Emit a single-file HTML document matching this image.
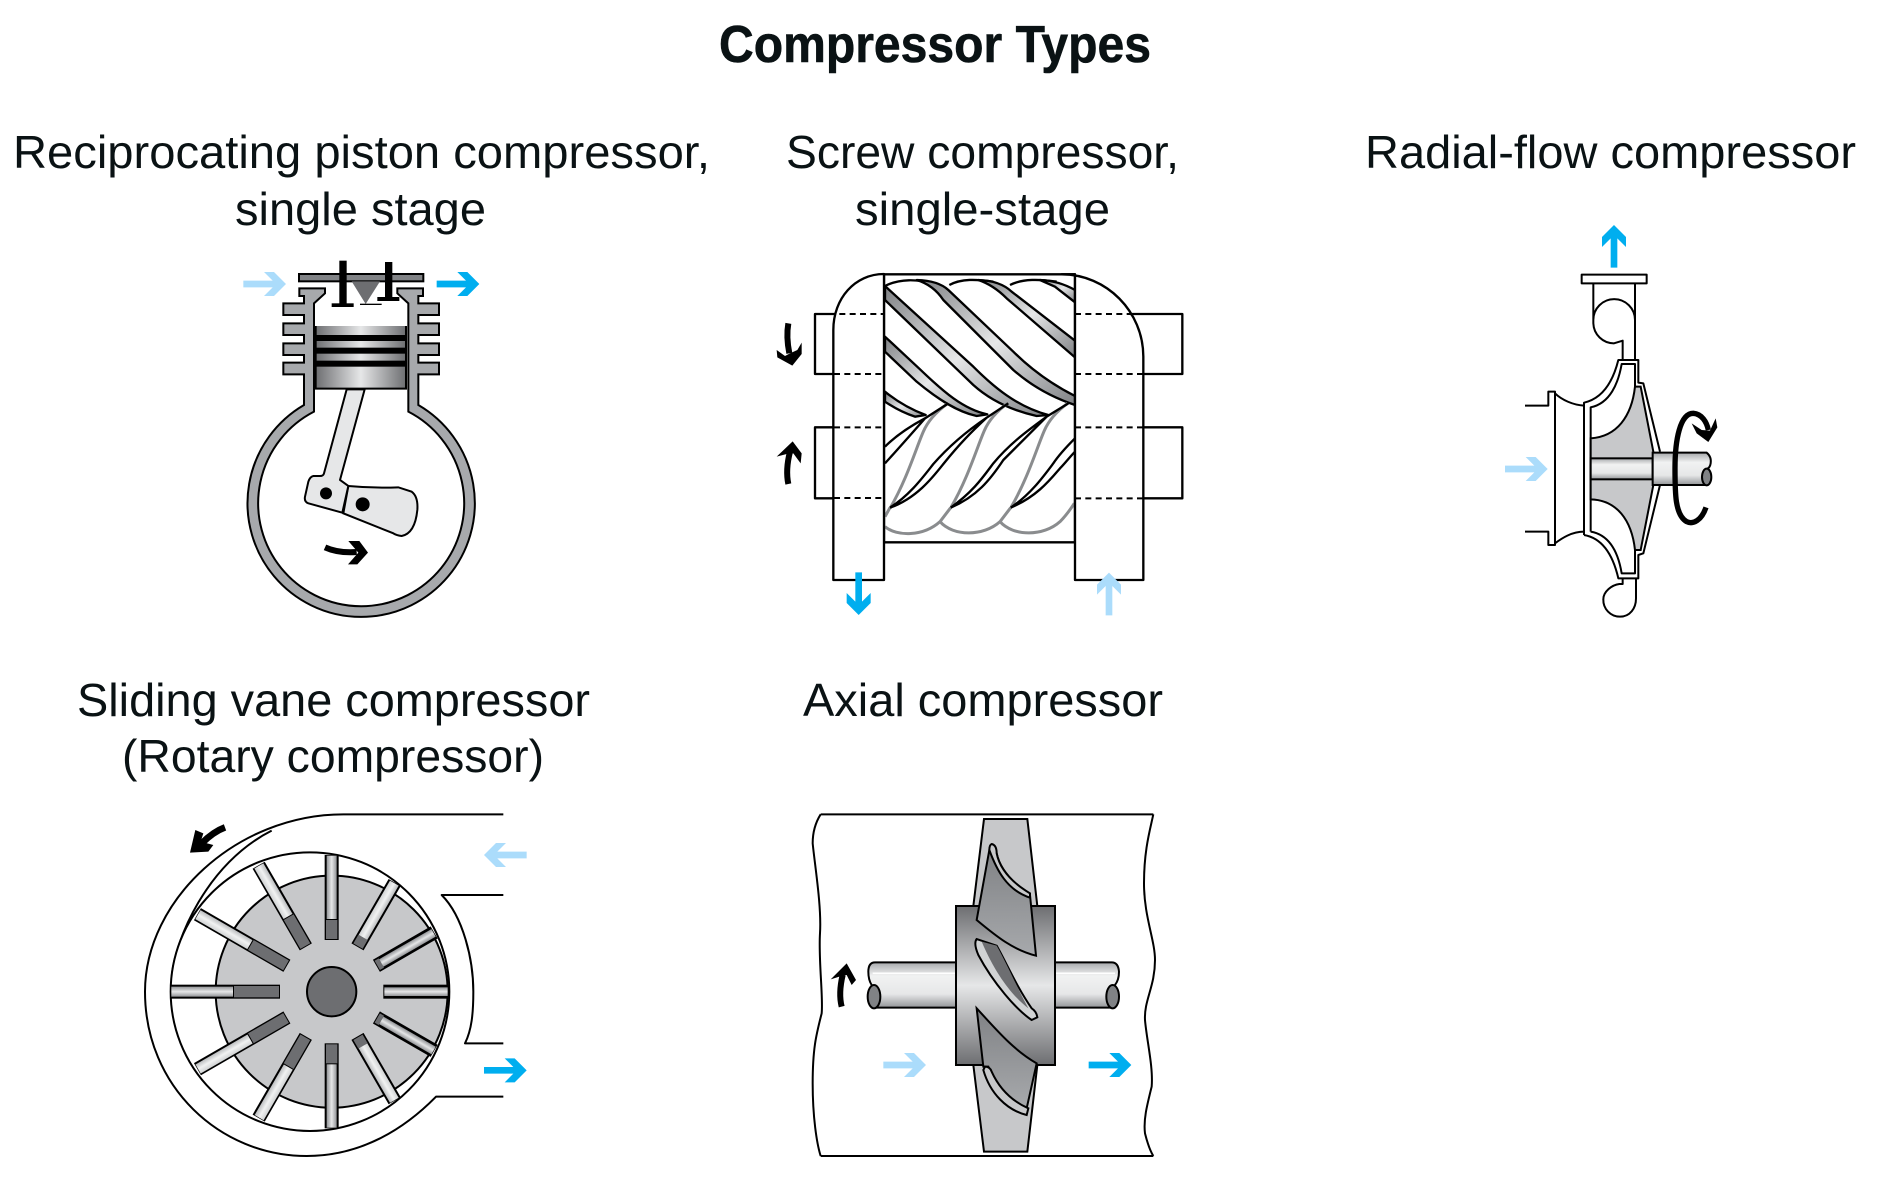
<!DOCTYPE html>
<html><head><meta charset="utf-8"><style>
html,body{margin:0;padding:0;background:#fff}
svg{display:block}
text{font-family:"Liberation Sans",sans-serif;fill:#0a1214}
.k{fill:none;stroke:#000;stroke-width:6;stroke-linejoin:round}
.w{fill:#fff;stroke:#000;stroke-width:6;stroke-linejoin:round}
.g{fill:none;stroke:#8a8c8e;stroke-width:9;stroke-linejoin:round}
.d{fill:none;stroke:#000;stroke-width:6;stroke-dasharray:18 13}
.bd{stroke:#000;stroke-width:7;stroke-linejoin:round;fill:url(#b)}
.sc .k,.sc .w{stroke-width:7}
</style></head><body>
<svg xmlns="http://www.w3.org/2000/svg" width="1889" height="1180" viewBox="0 0 1889 1180">
<defs>
<polygon id="ar" points="0,-10 88,-10 62,-36 92,-36 128,0 92,36 62,36 88,10 0,10"/>
<linearGradient id="h" x1="0" y1="0" x2="1" y2="0"><stop offset="0" stop-color="#6d6e71"/><stop offset=".5" stop-color="#e6e7e8"/><stop offset="1" stop-color="#6d6e71"/></linearGradient>
<linearGradient id="v" x1="0" y1="0" x2="0" y2="1"><stop offset="0" stop-color="#6d6e71"/><stop offset=".5" stop-color="#e6e7e8"/><stop offset="1" stop-color="#6d6e71"/></linearGradient>
<linearGradient id="b" x1="0" y1="0" x2="1" y2="1"><stop offset="0" stop-color="#808285"/><stop offset=".5" stop-color="#e6e7e8"/><stop offset="1" stop-color="#808285"/></linearGradient>
<linearGradient id="s" x1="0" y1="0" x2="0" y2="1"><stop offset="0" stop-color="#a7a9ac"/><stop offset=".3" stop-color="#f1f2f2"/><stop offset=".7" stop-color="#e6e7e8"/><stop offset="1" stop-color="#939598"/></linearGradient>
<linearGradient id="vn" x1="0" y1="0" x2="0" y2="1"><stop offset="0" stop-color="#939598"/><stop offset=".5" stop-color="#e6e7e8"/><stop offset="1" stop-color="#939598"/></linearGradient>
<linearGradient id="vl" x1="0" y1="0" x2="0" y2="1"><stop offset="0" stop-color="#d1d3d4"/><stop offset=".5" stop-color="#f1f2f2"/><stop offset="1" stop-color="#bcbec0"/></linearGradient>
<linearGradient id="bd" x1="0" y1="0" x2="0" y2="1"><stop offset="0" stop-color="#808285"/><stop offset="1" stop-color="#a7a9ac"/></linearGradient>
</defs>

<text x="719" y="62" font-size="52" font-weight="bold" stroke="#0a1214" stroke-width=".6" textLength="432" lengthAdjust="spacingAndGlyphs">Compressor Types</text>
<text x="13" y="168" font-size="46" textLength="697" lengthAdjust="spacingAndGlyphs">Reciprocating piston compressor,</text>
<text x="235" y="225" font-size="46" textLength="251" lengthAdjust="spacingAndGlyphs">single stage</text>
<text x="786" y="168" font-size="46" textLength="393" lengthAdjust="spacingAndGlyphs">Screw compressor,</text>
<text x="855" y="225" font-size="46" textLength="255" lengthAdjust="spacingAndGlyphs">single-stage</text>
<text x="1365" y="168" font-size="46" textLength="491" lengthAdjust="spacingAndGlyphs">Radial-flow compressor</text>
<text x="77" y="716" font-size="46" textLength="513" lengthAdjust="spacingAndGlyphs">Sliding vane compressor</text>
<text x="122" y="772" font-size="46" textLength="422" lengthAdjust="spacingAndGlyphs">(Rotary compressor)</text>
<text x="803" y="716" font-size="46" textLength="360" lengthAdjust="spacingAndGlyphs">Axial compressor</text>

<!-- Piston -->
<g transform="translate(220,240) scale(.33333)">
<rect x="237" y="102" width="373" height="22" fill="#808285" stroke="#000" stroke-width="6"/>
<polygon points="395,124 480,124 437,192" fill="#6d6e71"/>
<rect x="358" y="62" width="22" height="135" fill="#000"/><rect x="335" y="190" width="66" height="11" fill="#000"/>
<rect x="495" y="66" width="22" height="115" fill="#000"/><rect x="472" y="171" width="66" height="12" fill="#000"/>
<rect x="420" y="191" width="65" height="4" fill="#000"/>
<path d="M282,515 V190 L315,160 V145 H238 V168 H252 V190 H190 V225 H252 V250 H190 V285 H252 V310 H190 V345 H252 V368 H190 V403 H252 V495 A341,341 0 1 0 595,495 V403 H657 V368 H595 V345 H657 V310 H595 V285 H657 V250 H595 V225 H657 V190 H595 V168 H609 V145 H532 V160 L565,190 V515 A309,309 0 1 1 282,515 Z" fill="#a7a9ac" stroke="#000" stroke-width="6" stroke-linejoin="miter"/>
<rect x="287" y="258" width="271" height="188" fill="url(#h)"/>
<rect x="287" y="285" width="271" height="18" fill="#000"/><rect x="287" y="323" width="271" height="18" fill="#000"/><rect x="287" y="362" width="271" height="18" fill="#000"/>
<path d="M287,258 V446 H558 V258" fill="none" stroke="#000" stroke-width="6"/>
<path d="M385,738 Q460,745 535,742 L575,755 Q595,770 592,810 Q585,880 545,888 Q530,886 520,880 L370,820 Z" fill="#e6e7e8" stroke="#000" stroke-width="6"/>
<path d="M380,448 L312,700 Q310,708 300,708 H280 Q270,710 265,725 L255,770 Q252,785 265,790 L367,818 L385,738 L360,720 L434,448 Z" fill="#e6e7e8" stroke="#000" stroke-width="6" stroke-linejoin="round"/>
<circle cx="318" cy="760" r="18"/><circle cx="428" cy="793" r="21"/>
<path d="M315,922 Q355,940 410,936" fill="none" stroke="#000" stroke-width="18"/>
<polygon points="385,903 418,903 444,938 412,973 384,973 415,938"/>
<use href="#ar" transform="translate(70,132)" fill="#abdcfb"/>
<use href="#ar" transform="translate(650,132)" fill="#00aeef"/>
</g>

<!-- Screw -->
<g class="sc" transform="translate(760,250) scale(.33333)">
<rect x="372" y="73" width="573" height="804" class="w"/>
<path class="k" d="M375,108 C420,85 470,88 525,100 M568,105 C605,85 650,88 700,95 M750,105 C790,85 840,88 890,95"/>
<path class="bd" d="M375,425 Q430,470 497,495 L465,500 Q420,485 375,455 Z"/>
<path class="bd" d="M375,260 L480,358 C550,425 610,478 682,493 L650,498 C590,485 530,445 470,395 L375,305 Z"/>
<path class="bd" d="M375,108 L640,350 C700,410 770,470 865,495 L830,498 C750,480 690,450 640,405 L375,150 Z"/>
<path class="bd" d="M470,90 Q535,92 565,120 L760,305 Q840,385 945,438 V465 Q840,430 760,360 L550,150 Q520,105 470,90 Z"/>
<path class="bd" d="M655,90 Q720,92 755,125 L945,272 V322 L740,145 Q700,105 655,90 Z"/>
<path class="bd" d="M840,90 Q895,92 945,120 V157 L885,110 Z"/>
<g class="g">
<path d="M375,800 L390,773 M375,830 C410,860 490,860 540,815 L572,773 M540,815 C580,860 670,860 720,815 L752,773 M720,815 C760,860 850,860 900,815 C915,800 930,780 943,760"/>
<path d="M390,775 C440,690 470,590 490,545 C505,510 530,485 560,463"/>
<path d="M390,775 C440,690 470,590 490,545 C505,510 530,485 560,463" transform="translate(183,-3)"/>
<path d="M390,775 C440,690 470,590 490,545 C505,510 530,485 560,463" transform="translate(363,-3)"/>
</g>
<path class="k" d="M375,590 Q420,545 495,505 L565,460 M375,640 Q425,585 495,505"/>
<path class="k" d="M390,773 C450,735 490,680 520,642 C570,585 625,540 680,503 L745,460 M390,773 C470,745 520,680 550,642 C600,580 635,545 680,503"/>
<path class="k" d="M572,773 C640,725 670,680 700,640 C750,580 805,540 860,500 L925,460 M572,773 C650,740 690,690 730,630 C780,580 820,540 860,500"/>
<path class="k" d="M752,773 C810,735 850,680 880,640 C900,610 925,585 945,565 M752,773 C830,740 870,690 900,655 C915,640 930,620 945,605"/>
<path class="w" d="M372,72 C285,72 220,145 220,240 V990 H372 Z"/>
<path class="w" d="M905,73 C1040,73 1150,185 1150,320 V990 H945 V73 Z"/>
<path class="k" stroke-linejoin="miter" d="M228,192 H165 V372 H222 M222,532 H165 V745 H222 M1110,192 H1267 V372 H1150 M1150,532 H1267 V745 H1150"/>
<path class="d" d="M238,192 H372 M222,372 H372 M222,532 H372 M222,744 H372 M945,192 H1110 M945,372 H1150 M945,532 H1150 M945,745 H1150"/>
<path d="M85,220 Q78,260 88,310" fill="none" stroke="#000" stroke-width="18"/>
<polygon points="50,300 75,318 90,310 112,300 125,278 125,312 97,347 52,322"/>
<path d="M85,702 Q76,660 90,605" fill="none" stroke="#000" stroke-width="18"/>
<polygon points="50,620 98,574 125,610 122,640 100,610 80,612"/>
<use href="#ar" transform="translate(296,967) rotate(90)" fill="#00aeef"/>
<use href="#ar" transform="translate(1047,1096) rotate(-90)" fill="#abdcfb"/>
</g>

<!-- Radial -->
<g transform="translate(1480,210) scale(.33333)">
<use href="#ar" transform="translate(402,173) rotate(-90)" fill="#00aeef"/>
<rect x="305" y="194" width="195" height="26" class="w"/>
<path class="k" d="M340,220 V340 A62,62 0 0 0 402,400 L428,392 V450 M340,330 A62,62 0 0 1 465,330 M465,220 V450"/>
<path class="k" d="M135,587 H205 V545 H225 V1005 H205 V965 H135 M225,550 C245,570 280,585 312,587 M225,1000 C245,985 275,965 312,965"/>
<path class="k" stroke-width="6" d="M312,975 V578 C370,565 400,510 415,450 H475 V518 L490,520 L540,725 M540,825 L490,1030 L475,1035 V1105 H415 C400,1040 370,985 312,975"/>
<path class="k" d="M332,965 V592 C390,580 415,520 425,462 H465 V530 M465,1020 V1090 H425 C415,1030 390,975 332,965"/>
<path d="M465,530 L482,530 L520,725 V825 L482,1020 H465 C455,930 410,870 332,868 V685 C410,680 455,620 465,530 Z" fill="#c7c8ca" stroke="#000" stroke-width="6"/>
<rect x="332" y="745" width="186" height="63" fill="url(#s)" stroke="#000" stroke-width="6"/>
<path d="M518,728 H680 Q695,740 692,760 Q690,775 678,778 V825 H518 Z" fill="url(#s)" stroke="#000" stroke-width="6"/>
<ellipse cx="680" cy="801" rx="14" ry="25" fill="#808285" stroke="#000" stroke-width="6"/>
<path class="k" d="M428,1105 V1122 H418 C395,1125 370,1145 370,1168 A50,50 0 0 0 420,1220 C450,1220 468,1195 468,1165 V1105"/>
<path d="M678,892 C665,930 640,945 620,935 C585,915 585,850 585,775 C585,690 600,610 640,610 C665,612 680,635 685,660" fill="none" stroke="#000" stroke-width="16"/>
<polygon points="635,640 665,660 690,662 707,625 712,652 685,696 650,670"/>
<use href="#ar" transform="translate(75,777)" fill="#abdcfb"/>
</g>

<!-- Vane -->
<g transform="translate(130,800) scale(.33333)">
<path class="k" d="M1120,43 H640 C320,43 45,300 45,575 C45,860 270,1068 530,1068 C690,1068 820,990 918,890 H1120"/>
<path class="k" d="M1120,285 H935 C1000,350 1030,480 1030,575 C1030,640 1025,690 1005,730 H1120"/>
<path class="k" d="M125,530 C135,420 230,190 425,92"/>
<circle cx="540" cy="575" r="418" class="w"/>
<circle cx="605" cy="575" r="348" fill="#c7c8ca" stroke="#000" stroke-width="6"/>
<g transform="translate(605,575)">
<g><rect x="155" y="-21" width="195" height="42"/><rect x="158" y="-13" width="190" height="26" fill="url(#vn)"/></g>
<g transform="rotate(-30)"><rect x="155" y="-21" width="200" height="42"/><rect x="158" y="-16" width="14" height="32" fill="#6d6e71"/><rect x="172" y="-13" width="181" height="26" fill="url(#vn)"/></g>
<g transform="rotate(30)"><rect x="155" y="-21" width="200" height="42"/><rect x="158" y="-16" width="14" height="32" fill="#6d6e71"/><rect x="172" y="-13" width="181" height="26" fill="url(#vn)"/></g>
<g transform="rotate(-60)"><rect x="155" y="-21" width="223" height="42"/><rect x="158" y="-16" width="30" height="32" fill="#6d6e71"/><rect x="188" y="-15" width="188" height="30" fill="url(#vl)"/></g>
<g transform="rotate(60)"><rect x="155" y="-21" width="223" height="42"/><rect x="158" y="-16" width="30" height="32" fill="#6d6e71"/><rect x="188" y="-15" width="188" height="30" fill="url(#vl)"/></g>
<g transform="rotate(-90)"><rect x="155" y="-21" width="255" height="42"/><rect x="158" y="-17" width="57" height="34" fill="#6d6e71"/><rect x="218" y="-15" width="190" height="30" fill="url(#vn)"/></g>
<g transform="rotate(90)"><rect x="155" y="-21" width="255" height="42"/><rect x="158" y="-17" width="57" height="34" fill="#6d6e71"/><rect x="218" y="-15" width="190" height="30" fill="url(#vn)"/></g>
<g transform="rotate(-120)"><rect x="155" y="-21" width="283" height="42"/><rect x="158" y="-17" width="100" height="34" fill="#6d6e71"/><rect x="261" y="-16" width="175" height="31" fill="url(#vl)"/></g>
<g transform="rotate(120)"><rect x="155" y="-21" width="283" height="42"/><rect x="158" y="-17" width="100" height="34" fill="#6d6e71"/><rect x="261" y="-16" width="175" height="31" fill="url(#vl)"/></g>
<g transform="rotate(-150)"><rect x="155" y="-21" width="310" height="42"/><rect x="158" y="-17" width="122" height="34" fill="#6d6e71"/><rect x="283" y="-16" width="180" height="31" fill="url(#vl)"/></g>
<g transform="rotate(150)"><rect x="155" y="-21" width="310" height="42"/><rect x="158" y="-17" width="122" height="34" fill="#6d6e71"/><rect x="283" y="-16" width="180" height="31" fill="url(#vl)"/></g>
<g transform="rotate(180)"><rect x="155" y="-21" width="328" height="42"/><rect x="158" y="-17" width="135" height="34" fill="#6d6e71"/><rect x="296" y="-15" width="185" height="30" fill="url(#vn)"/></g>
</g>
<circle cx="605" cy="575" r="74" fill="#6d6e71" stroke="#000" stroke-width="6"/>
<path d="M285,82 Q250,95 215,130" fill="none" stroke="#000" stroke-width="20"/>
<polygon points="180,158 196,90 220,100 212,125 250,135 235,155"/>
<use href="#ar" transform="translate(1190,165) rotate(180)" fill="#abdcfb"/>
<use href="#ar" transform="translate(1062,811)" fill="#00aeef"/>
</g>

<!-- Axial -->
<g transform="translate(800,800) scale(.33333)">
<path class="k" d="M62,43 H1060 M62,1068 H1060 M62,43 C45,70 38,100 38,130 C45,200 65,320 60,400 C55,480 70,590 65,640 C50,700 38,740 38,850 C38,950 50,1030 62,1068 M1060,43 C1050,90 1032,150 1032,250 C1032,350 1065,420 1065,480 C1065,560 1032,600 1035,660 C1040,720 1060,800 1055,860 C1040,920 1030,960 1035,1000 C1045,1040 1055,1060 1060,1068"/>
<path d="M468,487 H225 Q205,487 205,515 Q205,540 215,555 L222,623 H468 Z" fill="url(#s)" stroke="#000" stroke-width="6"/>
<path d="M765,487 H935 Q955,487 957,515 Q957,540 945,555 L938,623 H765 Z" fill="url(#s)" stroke="#000" stroke-width="6"/>
<path d="M218,520 H468 M765,520 H945" stroke="#fff" stroke-width="5"/>
<ellipse cx="222" cy="590" rx="19" ry="35" fill="#808285" stroke="#000" stroke-width="6"/>
<ellipse cx="938" cy="590" rx="19" ry="35" fill="#808285" stroke="#000" stroke-width="6"/>
<path d="M552,57 H682 L712,318 H520 Z M520,795 H712 L682,1055 H552 Z" fill="#c7c8ca" stroke="#000" stroke-width="6"/>
<rect x="468" y="318" width="297" height="477" fill="url(#v)" stroke="#000" stroke-width="6"/>
<path d="M568,150 L530,360 C590,410 640,450 708,467 L690,285 C640,250 600,210 590,160 Z" fill="url(#bd)" stroke="#000" stroke-width="6"/>
<path d="M575,132 Q590,135 590,160 C600,210 640,250 690,280 V293 C620,270 590,210 568,150 Q568,135 575,132 Z" fill="#c7c8ca" stroke="#000" stroke-width="6"/>
<path d="M530,417 Q520,430 535,465 C580,550 650,630 695,660 L712,652 Q710,635 695,625 C650,560 620,490 590,437 Z" fill="#d1d3d4" stroke="#000" stroke-width="6"/>
<path d="M545,425 L590,437 C620,490 650,560 685,625 C640,590 590,530 545,425 Z" fill="#6d6e71"/>
<path d="M530,625 C590,690 640,750 710,790 L680,925 C620,900 590,860 565,800 H550 Z" fill="url(#bd)" stroke="#000" stroke-width="6"/>
<path d="M555,800 Q570,800 575,815 C600,870 640,905 685,925 L680,945 C620,930 570,880 550,810 Z" fill="#c7c8ca" stroke="#000" stroke-width="6"/>
<path d="M125,620 Q115,580 128,525" fill="none" stroke="#000" stroke-width="18"/>
<polygon points="92,538 140,490 168,540 155,555 140,525 118,530"/>
<use href="#ar" transform="translate(250,795)" fill="#abdcfb"/>
<use href="#ar" transform="translate(866,795)" fill="#00aeef"/>
</g>
</svg>
</body></html>
